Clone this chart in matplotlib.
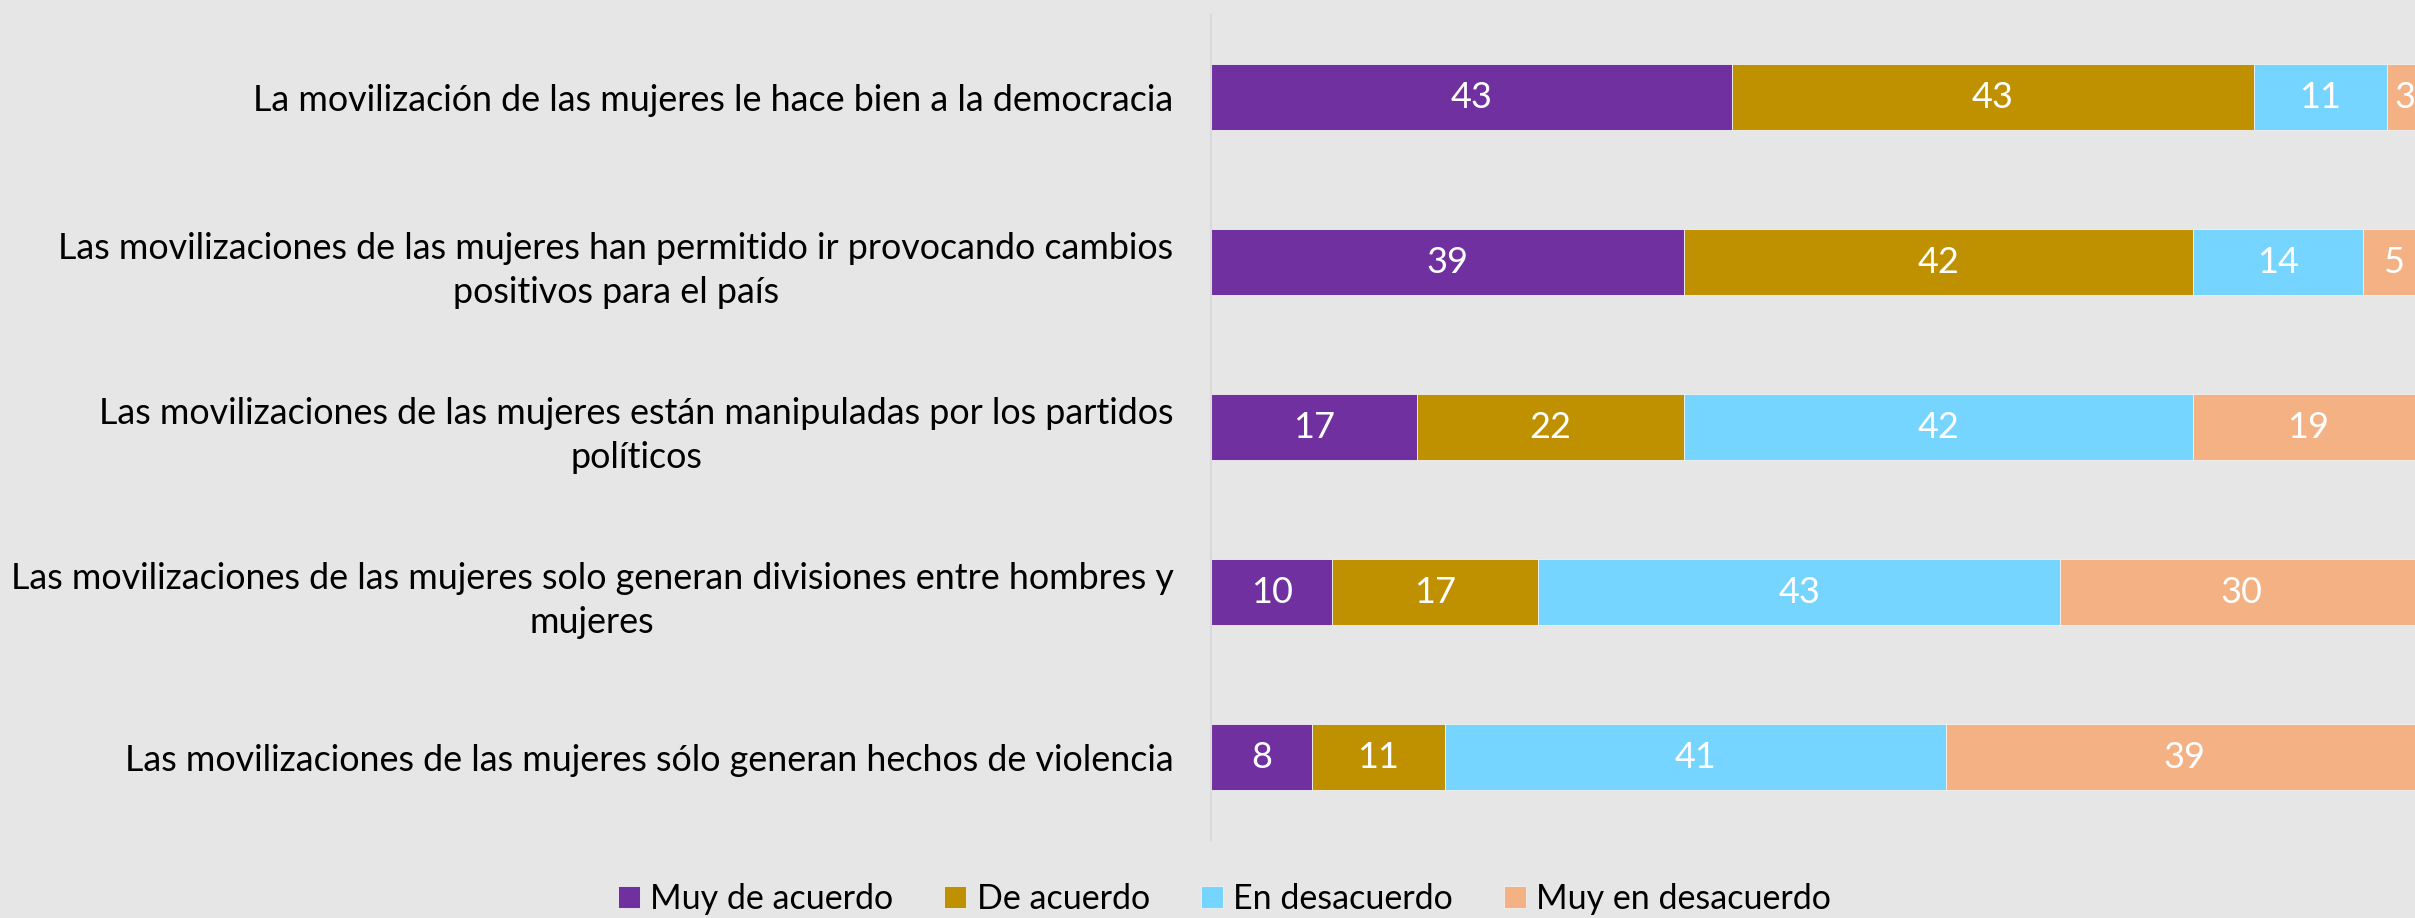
import matplotlib.pyplot as plt
import numpy as np

# survey statements (top to bottom)
labels = [
    "La movilización de las mujeres le hace bien a la democracia",
    "Las movilizaciones de las mujeres han permitido ir provocando cambios\npositivos para el país",
    "Las movilizaciones de las mujeres están manipuladas por los partidos\npolíticos",
    "Las movilizaciones de las mujeres solo generan divisiones entre hombres y\nmujeres",
    "Las movilizaciones de las mujeres sólo generan hechos de violencia",
]
series_names = ["Muy de acuerdo", "De acuerdo", "En desacuerdo", "Muy en desacuerdo"]
# segment lengths (labels show them rounded)
muy_de_acuerdo = [43, 39, 17, 10, 8.3]
de_acuerdo = [43, 42, 22, 17, 11.0]
en_desacuerdo = [11, 14, 42, 43, 41.3]
muy_en_desacuerdo = [3, 5, 19, 30, 39.4]

colors = ["#7030A0", "#BF9000", "#75D5FF", "#F4B183"]
bg = "#E7E6E6"

plt.rcParams['font.family'] = ['Lato', 'DejaVu Sans']

fig = plt.figure(figsize=(24.15, 9.18), dpi=100, facecolor=bg)
ax = fig.add_axes([0.5015, 0.085, 0.502, 0.899])
ax.set_facecolor(bg)

y = np.arange(len(labels))
left = np.zeros(len(labels))
all_series = [muy_de_acuerdo, de_acuerdo, en_desacuerdo, muy_en_desacuerdo]
for name, vals, c in zip(series_names, all_series, colors):
    vals = np.array(vals, dtype=float)
    bars = ax.barh(y, vals, left=left, height=0.4, color=c, label=name,
                   edgecolor="#f2f2f2", linewidth=0.6)
    ax.bar_label(bars, labels=["%.0f" % v for v in vals], label_type='center',
                 color='white', fontsize=26)
    left = left + vals

ax.set_xlim(0, 100)
ax.set_ylim(len(labels) - 0.5, -0.5)
ax.set_yticks(y)
ax.set_yticklabels(labels, fontsize=25.8, linespacing=1.4)
for t in ax.get_yticklabels():
    t.set_multialignment('center')
ax.tick_params(axis='y', length=0, pad=27)
ax.set_xticks([])
for s in ['top', 'right', 'bottom']:
    ax.spines[s].set_visible(False)
ax.spines['left'].set_color('#D9D9D9')
ax.spines['left'].set_linewidth(1.5)

fig.legend(loc='lower center', bbox_to_anchor=(0.507, -0.03), ncol=4, frameon=False,
           fontsize=24.5, handlelength=0.65, handleheight=0.65, handletextpad=0.3,
           columnspacing=1.5)

fig.savefig("out.png", dpi=100, facecolor=bg)
